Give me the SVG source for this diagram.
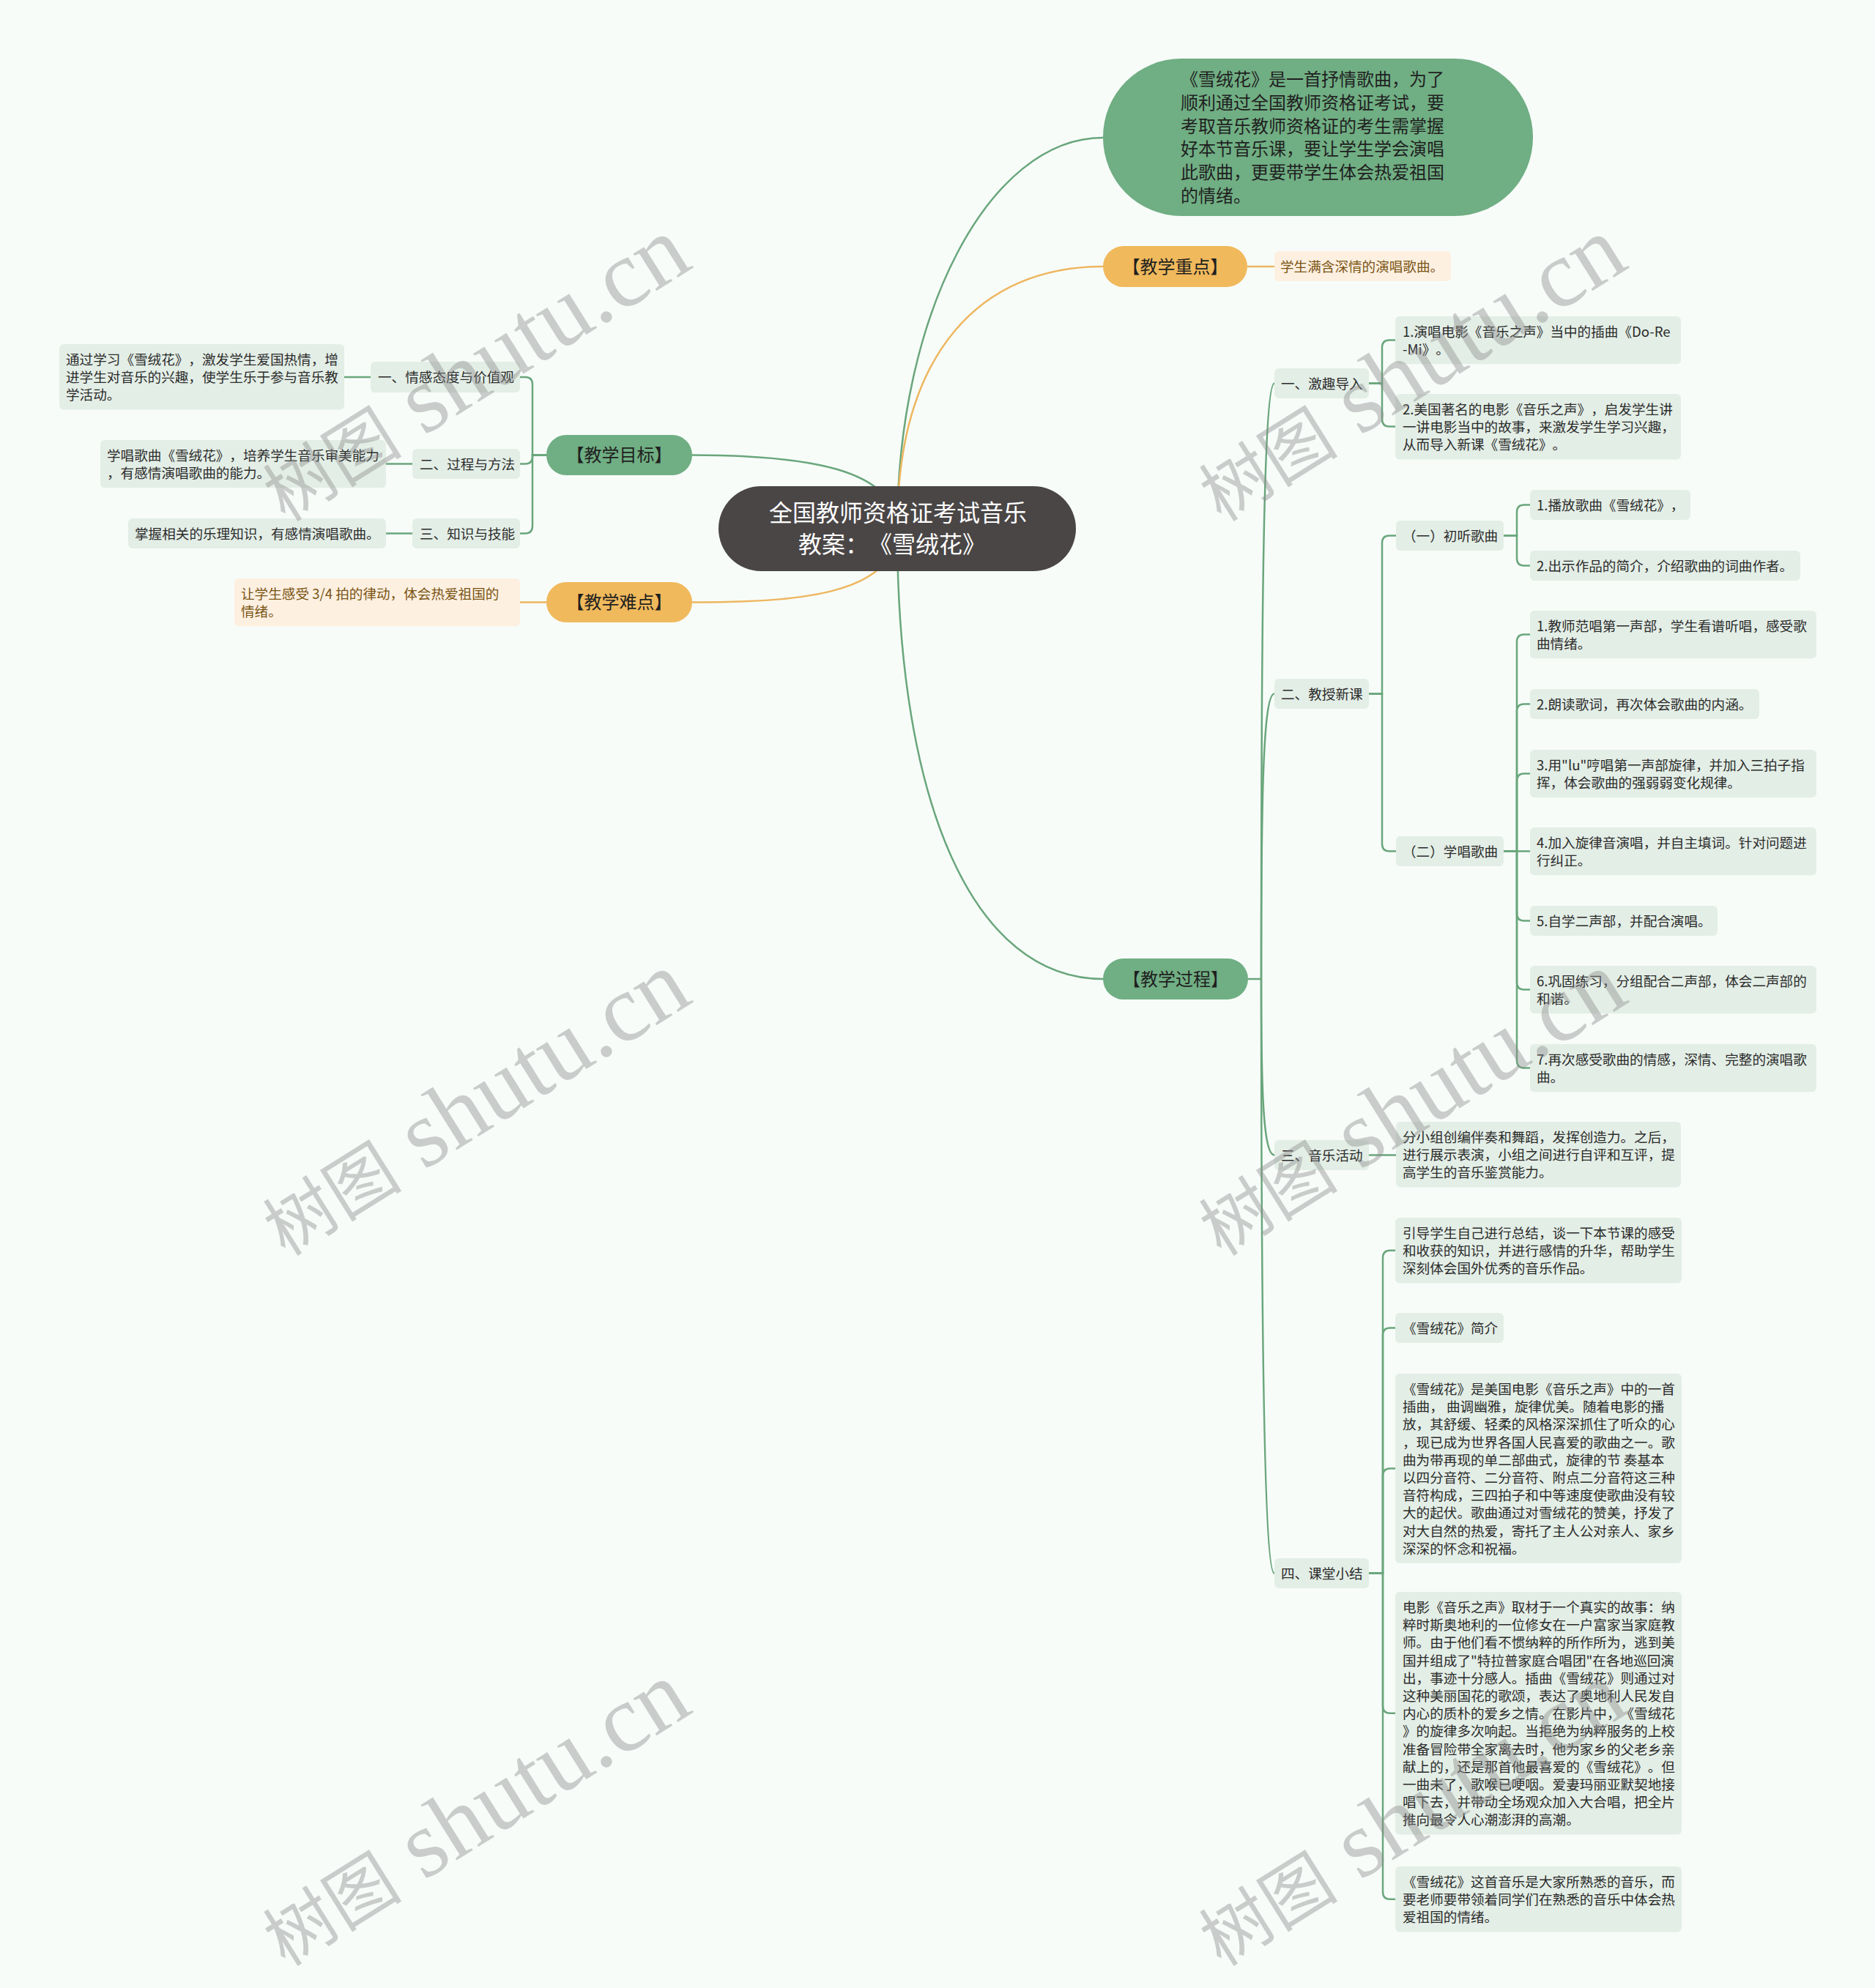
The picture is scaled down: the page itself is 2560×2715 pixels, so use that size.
<svg xmlns="http://www.w3.org/2000/svg" width="2560" height="2715" viewBox="0 0 2560 2715">
<style>
text{text-spacing-trim:space-all}
.t{font-family:"Noto Sans CJK SC","Noto Sans",sans-serif;font-size:18.6px;fill:#2b2b2b}
.to{fill:#7a5414}
.tb{font-family:"Noto Sans CJK SC","Noto Sans",sans-serif;font-size:24px;fill:#1f1f1f;text-anchor:middle}
.tr{font-family:"Noto Sans CJK SC","Noto Sans",sans-serif;font-size:32px;fill:#ffffff}
.g1{fill:#70ae83}
.o1{fill:#f0b95c}
.lf{fill:#e3eee6}
.lo{fill:#fdf0e1}
.cg{fill:none;stroke:#6aa67c;stroke-width:2.5}
.co{fill:none;stroke:#eeb65f;stroke-width:2.5}
.wm{font-family:"Liberation Serif","Noto Sans CJK SC",serif;font-size:130px;fill:#8c8c8c;opacity:0.42;text-anchor:middle}
.wc{font-family:"Noto Sans CJK SC",serif;font-size:95px}
</style>
<rect x="0" y="0" width="2560" height="2715" fill="#f7fcf9"/>
<g id="connectors">
<path class="cg" d="M1225 722 C1225 430 1350 188 1506 188"/>
<path class="co" d="M1225 722 C1225 480 1340 364 1506 364"/>
<path class="cg" d="M1225 722 C1225 1100 1330 1337 1506 1337"/>
<path class="cg" d="M1225 722 C1225 640 1100 621.5 945 621.5"/>
<path class="co" d="M1225 722 C1225 815 1080 822.5 945 822.5"/>
<path class="co" d="M1703 364 H1740"/>
<path class="co" d="M746 822.5 H710"/>
<path class="cg" d="M746 621.5 H727 V525 Q727 515 717 515 H710"/>
<path class="cg" d="M746 621.5 H727 V623.5 Q727 633.5 717 633.5 H710"/>
<path class="cg" d="M746 621.5 H727 V718.5 Q727 728.5 717 728.5 H710"/>
<path class="cg" d="M506 515 H470"/>
<path class="cg" d="M563 633.5 H527"/>
<path class="cg" d="M563 728.5 H527"/>
<path class="cg" d="M1704 1337 H1722"/>
<path class="cg" d="M1722 1337 C1722 900 1724 523.5 1740 523.5"/>
<path class="cg" d="M1722 1337 C1722 1100 1724 947.5 1740 947.5"/>
<path class="cg" d="M1722 1337 C1722 1480 1724 1577.5 1740 1577.5"/>
<path class="cg" d="M1722 1337 C1722 1800 1726 2148.5 1740 2148.5"/>
<path class="cg" d="M1869 523.5 H1887 V474.5 Q1887 464.5 1897 464.5 H1905"/>
<path class="cg" d="M1869 523.5 H1887 V572.5 Q1887 582.5 1897 582.5 H1905"/>
<path class="cg" d="M1869 947.5 H1887 V741.5 Q1887 731.5 1897 731.5 H1906"/>
<path class="cg" d="M1869 947.5 H1887 V1152.5 Q1887 1162.5 1897 1162.5 H1906"/>
<path class="cg" d="M2053 731.5 H2071 V699.5 Q2071 689.5 2081 689.5 H2089"/>
<path class="cg" d="M2053 731.5 H2071 V762.5 Q2071 772.5 2081 772.5 H2089"/>
<path class="cg" d="M2053 1162.5 H2071 V876.6 Q2071 866.6 2081 866.6 H2089"/>
<path class="cg" d="M2053 1162.5 H2071 V971.5 Q2071 961.5 2081 961.5 H2089"/>
<path class="cg" d="M2053 1162.5 H2071 V1066.6 Q2071 1056.6 2081 1056.6 H2089"/>
<path class="cg" d="M2053 1162.5 H2089"/>
<path class="cg" d="M2053 1162.5 H2071 V1247.5 Q2071 1257.5 2081 1257.5 H2089"/>
<path class="cg" d="M2053 1162.5 H2071 V1341.6 Q2071 1351.6 2081 1351.6 H2089"/>
<path class="cg" d="M2053 1162.5 H2071 V1448.6 Q2071 1458.6 2081 1458.6 H2089"/>
<path class="cg" d="M1869 1577.5 H1906"/>
<path class="cg" d="M1869 2148.5 H1888 V1717.7 Q1888 1707.7 1898 1707.7 H1905"/>
<path class="cg" d="M1869 2148.5 H1888 V1823.5 Q1888 1813.5 1898 1813.5 H1905"/>
<path class="cg" d="M1869 2148.5 H1888 V2015.4 Q1888 2005.4 1898 2005.4 H1905"/>
<path class="cg" d="M1869 2148.5 H1888 V2329.7 Q1888 2339.7 1898 2339.7 H1905"/>
<path class="cg" d="M1869 2148.5 H1888 V2583.7 Q1888 2593.7 1898 2593.7 H1905"/>
</g>
<g id="root">
<rect x="981" y="664" width="488" height="116" rx="58" fill="#4a4646"/>
<text class="tr" x="1050" y="712">全国教师资格证考试音乐</text>
<text class="tr" x="1090" y="755">教案：《雪绒花》</text>
</g>
<g id="desc">
<rect x="1506" y="80" width="587" height="215" rx="107" class="g1"/>
<text class="t" style="font-size:24px;fill:#1f1f1f"><tspan x="1612" y="117">《雪绒花》是一首抒情歌曲，为了</tspan><tspan x="1612" y="148.8">顺利通过全国教师资格证考试，要</tspan><tspan x="1612" y="180.6">考取音乐教师资格证的考生需掌握</tspan><tspan x="1612" y="212.4">好本节音乐课，要让学生学会演唱</tspan><tspan x="1612" y="244.2">此歌曲，更要带学生体会热爱祖国</tspan><tspan x="1612" y="276">的情绪。</tspan></text>
</g>
<g id="zhongdian">
<rect x="1506" y="336" width="197" height="56" rx="28" class="o1"/>
<text class="tb" x="1604.5" y="372.5">【教学重点】</text>
</g>
<g id="zhongdian-1">
<rect x="1740" y="343" width="241" height="41" rx="6" class="lo"/>
<text class="t to" x="1748" y="371">学生满含深情的演唱歌曲。</text>
</g>
<g id="guocheng">
<rect x="1506" y="1309" width="198" height="56" rx="28" class="g1"/>
<text class="tb" x="1605" y="1345.5">【教学过程】</text>
</g>
<g id="mubiao">
<rect x="746" y="594" width="199" height="55" rx="27" class="g1"/>
<text class="tb" x="845.5" y="630">【教学目标】</text>
</g>
<g id="nandian">
<rect x="746" y="795" width="199" height="55" rx="27" class="o1"/>
<text class="tb" x="845.5" y="831">【教学难点】</text>
</g>
<g id="nandian-1">
<rect x="320" y="790" width="390" height="65.2" rx="6" class="lo"/>
<text class="t to"><tspan x="329" y="818">让学生感受 3/4 拍的律动，体会热爱祖国的</tspan><tspan x="329" y="842.2">情绪。</tspan></text>
</g>
<g id="mb-1">
<rect x="506" y="494" width="204" height="42" rx="6" class="lf"/>
<text class="t" x="516" y="522">一、情感态度与价值观</text>
</g>
<g id="mb-1-1">
<rect x="81" y="470" width="389" height="89.4" rx="6" class="lf"/>
<text class="t"><tspan x="90" y="498">通过学习《雪绒花》，激发学生爱国热情，增</tspan><tspan x="90" y="522.2">进学生对音乐的兴趣，使学生乐于参与音乐教</tspan><tspan x="90" y="546.4">学活动。</tspan></text>
</g>
<g id="mb-2">
<rect x="563" y="613" width="147" height="41" rx="6" class="lf"/>
<text class="t" x="573" y="641">二、过程与方法</text>
</g>
<g id="mb-2-1">
<rect x="137" y="601" width="390" height="65.2" rx="6" class="lf"/>
<text class="t"><tspan x="146" y="629">学唱歌曲《雪绒花》，培养学生音乐审美能力</tspan><tspan x="146" y="653.2">，有感情演唱歌曲的能力。</tspan></text>
</g>
<g id="mb-3">
<rect x="563" y="708" width="147" height="41" rx="6" class="lf"/>
<text class="t" x="573" y="736">三、知识与技能</text>
</g>
<g id="mb-3-1">
<rect x="175" y="708" width="352" height="41" rx="6" class="lf"/>
<text class="t" x="184" y="736">掌握相关的乐理知识，有感情演唱歌曲。</text>
</g>
<g id="gc-1">
<rect x="1740" y="503" width="129" height="41" rx="6" class="lf"/>
<text class="t" x="1749" y="531">一、激趣导入</text>
</g>
<g id="gc-1-1">
<rect x="1905" y="432" width="390" height="65.2" rx="6" class="lf"/>
<text class="t"><tspan x="1915" y="460">1.演唱电影《音乐之声》当中的插曲《Do-Re</tspan><tspan x="1915" y="484.2">-Mi》。</tspan></text>
</g>
<g id="gc-1-2">
<rect x="1905" y="538" width="390" height="89.4" rx="6" class="lf"/>
<text class="t"><tspan x="1915" y="566">2.美国著名的电影《音乐之声》，启发学生讲</tspan><tspan x="1915" y="590.2">一讲电影当中的故事，来激发学生学习兴趣，</tspan><tspan x="1915" y="614.4">从而导入新课《雪绒花》。</tspan></text>
</g>
<g id="gc-2">
<rect x="1740" y="927" width="129" height="41" rx="6" class="lf"/>
<text class="t" x="1749" y="955">二、教授新课</text>
</g>
<g id="gc-2-1">
<rect x="1906" y="711" width="147" height="41" rx="6" class="lf"/>
<text class="t" x="1915" y="739">（一）初听歌曲</text>
</g>
<g id="gc-2-1-1">
<rect x="2089" y="669" width="219" height="41" rx="6" class="lf"/>
<text class="t" x="2098" y="697">1.播放歌曲《雪绒花》，</text>
</g>
<g id="gc-2-1-2">
<rect x="2089" y="752" width="369" height="41" rx="6" class="lf"/>
<text class="t" x="2098" y="780">2.出示作品的简介，介绍歌曲的词曲作者。</text>
</g>
<g id="gc-2-2">
<rect x="1906" y="1142" width="147" height="41" rx="6" class="lf"/>
<text class="t" x="1915" y="1170">（二）学唱歌曲</text>
</g>
<g id="gc-2-2-1">
<rect x="2089" y="834" width="391" height="65.2" rx="6" class="lf"/>
<text class="t"><tspan x="2098" y="862">1.教师范唱第一声部，学生看谱听唱，感受歌</tspan><tspan x="2098" y="886.2">曲情绪。</tspan></text>
</g>
<g id="gc-2-2-2">
<rect x="2089" y="941" width="313" height="41" rx="6" class="lf"/>
<text class="t" x="2098" y="969">2.朗读歌词，再次体会歌曲的内涵。</text>
</g>
<g id="gc-2-2-3">
<rect x="2089" y="1024" width="391" height="65.2" rx="6" class="lf"/>
<text class="t"><tspan x="2098" y="1052">3.用"lu"哼唱第一声部旋律，并加入三拍子指</tspan><tspan x="2098" y="1076.2">挥，体会歌曲的强弱弱变化规律。</tspan></text>
</g>
<g id="gc-2-2-4">
<rect x="2089" y="1130" width="391" height="65.2" rx="6" class="lf"/>
<text class="t"><tspan x="2098" y="1158">4.加入旋律音演唱，并自主填词。针对问题进</tspan><tspan x="2098" y="1182.2">行纠正。</tspan></text>
</g>
<g id="gc-2-2-5">
<rect x="2089" y="1237" width="256" height="41" rx="6" class="lf"/>
<text class="t" x="2098" y="1265">5.自学二声部，并配合演唱。</text>
</g>
<g id="gc-2-2-6">
<rect x="2089" y="1319" width="391" height="65.2" rx="6" class="lf"/>
<text class="t"><tspan x="2098" y="1347">6.巩固练习，分组配合二声部，体会二声部的</tspan><tspan x="2098" y="1371.2">和谐。</tspan></text>
</g>
<g id="gc-2-2-7">
<rect x="2089" y="1426" width="391" height="65.2" rx="6" class="lf"/>
<text class="t"><tspan x="2098" y="1454">7.再次感受歌曲的情感，深情、完整的演唱歌</tspan><tspan x="2098" y="1478.2">曲。</tspan></text>
</g>
<g id="gc-3">
<rect x="1740" y="1557" width="129" height="41" rx="6" class="lf"/>
<text class="t" x="1749" y="1585">三、音乐活动</text>
</g>
<g id="gc-3-1">
<rect x="1906" y="1532" width="389" height="89.4" rx="6" class="lf"/>
<text class="t"><tspan x="1915" y="1560">分小组创编伴奏和舞蹈，发挥创造力。之后，</tspan><tspan x="1915" y="1584.2">进行展示表演，小组之间进行自评和互评，提</tspan><tspan x="1915" y="1608.4">高学生的音乐鉴赏能力。</tspan></text>
</g>
<g id="gc-4">
<rect x="1740" y="2128" width="129" height="41" rx="6" class="lf"/>
<text class="t" x="1749" y="2156">四、课堂小结</text>
</g>
<g id="gc-4-1">
<rect x="1905" y="1663" width="391" height="89.4" rx="6" class="lf"/>
<text class="t"><tspan x="1915" y="1691">引导学生自己进行总结，谈一下本节课的感受</tspan><tspan x="1915" y="1715.2">和收获的知识，并进行感情的升华，帮助学生</tspan><tspan x="1915" y="1739.4">深刻体会国外优秀的音乐作品。</tspan></text>
</g>
<g id="gc-4-2">
<rect x="1905" y="1793" width="148" height="41" rx="6" class="lf"/>
<text class="t" x="1915" y="1821">《雪绒花》简介</text>
</g>
<g id="gc-4-3">
<rect x="1905" y="1876" width="391" height="258.8" rx="6" class="lf"/>
<text class="t"><tspan x="1915" y="1904">《雪绒花》是美国电影《音乐之声》中的一首</tspan><tspan x="1915" y="1928.2">插曲， 曲调幽雅，旋律优美。随着电影的播</tspan><tspan x="1915" y="1952.4">放，其舒缓、轻柔的风格深深抓住了听众的心</tspan><tspan x="1915" y="1976.6">，现已成为世界各国人民喜爱的歌曲之一。歌</tspan><tspan x="1915" y="2000.8">曲为带再现的单二部曲式，旋律的节 奏基本</tspan><tspan x="1915" y="2025">以四分音符、二分音符、附点二分音符这三种</tspan><tspan x="1915" y="2049.2">音符构成，三四拍子和中等速度使歌曲没有较</tspan><tspan x="1915" y="2073.4">大的起伏。歌曲通过对雪绒花的赞美，抒发了</tspan><tspan x="1915" y="2097.6">对大自然的热爱，寄托了主人公对亲人、家乡</tspan><tspan x="1915" y="2121.8">深深的怀念和祝福。</tspan></text>
</g>
<g id="gc-4-4">
<rect x="1905" y="2174" width="391" height="331.4" rx="6" class="lf"/>
<text class="t"><tspan x="1915" y="2202">电影《音乐之声》取材于一个真实的故事：纳</tspan><tspan x="1915" y="2226.2">粹时斯奥地利的一位修女在一户富家当家庭教</tspan><tspan x="1915" y="2250.4">师。由于他们看不惯纳粹的所作所为，逃到美</tspan><tspan x="1915" y="2274.6">国并组成了"特拉普家庭合唱团"在各地巡回演</tspan><tspan x="1915" y="2298.8">出，事迹十分感人。插曲《雪绒花》则通过对</tspan><tspan x="1915" y="2323">这种美丽国花的歌颂，表达了奥地利人民发自</tspan><tspan x="1915" y="2347.2">内心的质朴的爱乡之情。在影片中，《雪绒花</tspan><tspan x="1915" y="2371.4">》的旋律多次响起。当拒绝为纳粹服务的上校</tspan><tspan x="1915" y="2395.6">准备冒险带全家离去时，他为家乡的父老乡亲</tspan><tspan x="1915" y="2419.8">献上的，还是那首他最喜爱的《雪绒花》。但</tspan><tspan x="1915" y="2444">一曲未了，歌喉已哽咽。爱妻玛丽亚默契地接</tspan><tspan x="1915" y="2468.2">唱下去，并带动全场观众加入大合唱，把全片</tspan><tspan x="1915" y="2492.4">推向最令人心潮澎湃的高潮。</tspan></text>
</g>
<g id="gc-4-5">
<rect x="1905" y="2549" width="391" height="89.4" rx="6" class="lf"/>
<text class="t"><tspan x="1915" y="2577">《雪绒花》这首音乐是大家所熟悉的音乐，而</tspan><tspan x="1915" y="2601.2">要老师要带领着同学们在熟悉的音乐中体会热</tspan><tspan x="1915" y="2625.4">爱祖国的情绪。</tspan></text>
</g>
<g id="watermarks">
<text class="wm" transform="translate(648 505) rotate(-32)" dy="40"><tspan class="wc">树图</tspan> shutu.cn</text>
<text class="wm" transform="translate(1926 505) rotate(-32)" dy="40"><tspan class="wc">树图</tspan> shutu.cn</text>
<text class="wm" transform="translate(648 1508) rotate(-32)" dy="40"><tspan class="wc">树图</tspan> shutu.cn</text>
<text class="wm" transform="translate(1926 1508) rotate(-32)" dy="40"><tspan class="wc">树图</tspan> shutu.cn</text>
<text class="wm" transform="translate(648 2478) rotate(-32)" dy="40"><tspan class="wc">树图</tspan> shutu.cn</text>
<text class="wm" transform="translate(1926 2478) rotate(-32)" dy="40"><tspan class="wc">树图</tspan> shutu.cn</text>
</g>
</svg>
